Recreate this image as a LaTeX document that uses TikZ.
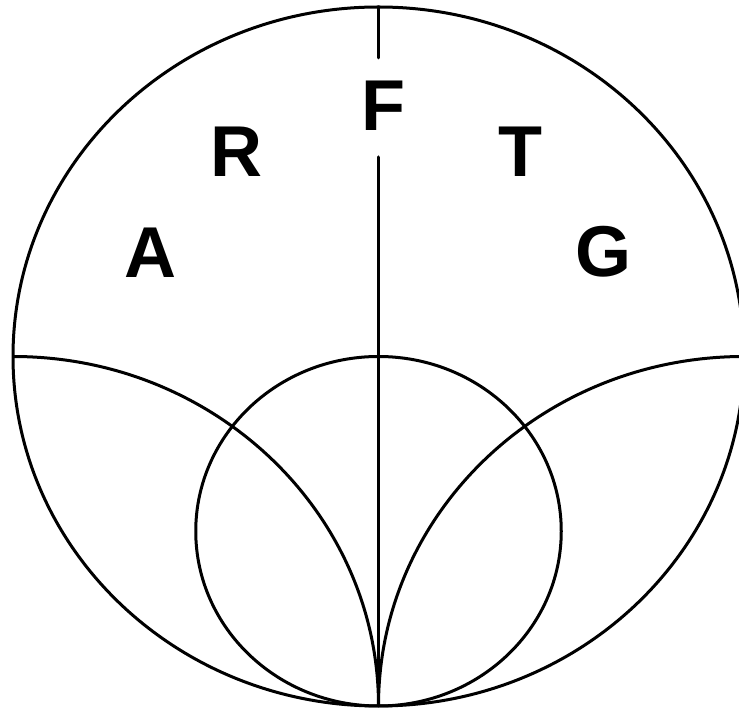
\documentclass[tikz,border=0pt]{standalone}
\usepackage{fontspec}
\setmainfont{Liberation Sans}
\begin{document}
\begin{tikzpicture}[x=1pt,y=1pt,
  curve/.style={line width=3pt,black},
  letter/.style={font=\fontsize{72}{80}\selectfont\bfseries,inner sep=0pt,anchor=base}]
\useasboundingbox (0,0) rectangle (739,712);
% outer circle
\draw[curve] (378.5,355.5) ellipse [x radius=365.5pt, y radius=349.5pt];
% inner circle
\draw[curve] (378.5,180.75) ellipse [x radius=182.75pt, y radius=174.75pt];
% left and right arcs
\draw[curve] (13,355.5) arc [start angle=90, end angle=0, x radius=365.5pt, y radius=349.5pt];
\draw[curve] (378.5,6) arc [start angle=180, end angle=90, x radius=365.5pt, y radius=349.5pt];
% vertical line with gap for F
\coordinate (top) at (378.5,705);
\coordinate (topend) at (378.5,654);
\coordinate (midstart) at (378.5,555);
\coordinate (bottom) at (378.5,6);
\draw[curve,line cap=round] (top) -- (topend);
\draw[curve,line cap=round] (midstart) -- (bottom);
% letters
\node[letter] (F) at (383,581) {F};
\node[letter] (R) at (236,535) {R};
\node[letter] (T) at (520,535) {T};
\node[letter] (A) at (150,434) {A};
\node[letter] (G) at (603,435) {G};
\end{tikzpicture}
\end{document}
